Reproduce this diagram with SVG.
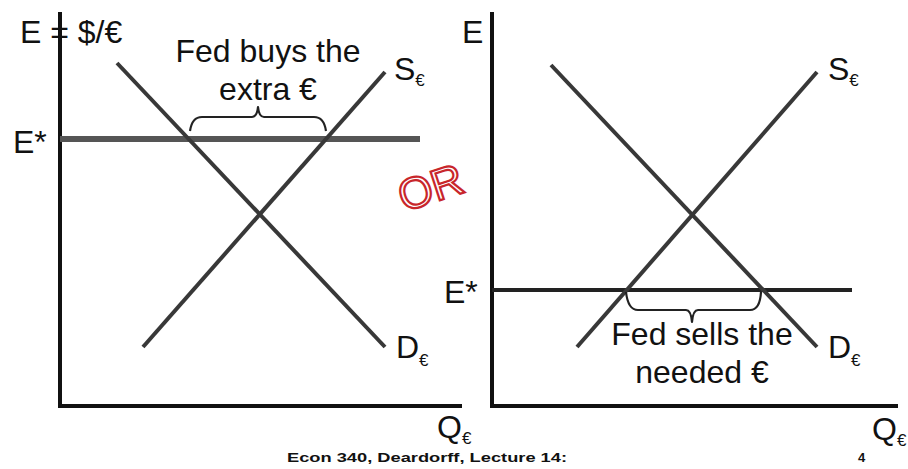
<svg xmlns="http://www.w3.org/2000/svg" width="908" height="469" viewBox="0 0 908 469">
<style>
.axis{stroke:#111;stroke-width:4;fill:none;stroke-linecap:square}
.curve{stroke:#383838;stroke-width:4;fill:none}
.brace{stroke:#222;stroke-width:2.2;fill:none;stroke-linejoin:round}
.lbl{font-family:"Liberation Sans",Arial,sans-serif;fill:#111}
.big{font-size:32px}
.sub{font-size:17px}
.foot{font-family:"Liberation Sans",Arial,sans-serif;font-size:13px;font-weight:bold;fill:#111}
</style>
<rect width="908" height="469" fill="#fff"/>
<g id="left-chart">
  <line class="axis" x1="60" y1="14" x2="60" y2="406"/>
  <line class="axis" x1="60" y1="406" x2="460" y2="406"/>
  <line x1="60" y1="139" x2="420" y2="139" stroke="#555" stroke-width="6"/>
  <line class="curve" x1="117" y1="63" x2="385" y2="347"/>
  <line class="curve" x1="143" y1="347" x2="385" y2="72"/>
  <path class="brace" d="M190,131 Q192,117 202,117 L252,117 Q257,117 258,107 Q259,117 264,117 L314,117 Q324,117 326,131"/>
  <text class="lbl big" x="20" y="43">E = $/€</text>
  <text class="lbl big" x="13" y="153">E*</text>
  <text class="lbl big" x="268" y="62" text-anchor="middle">Fed buys the</text>
  <text class="lbl big" x="268" y="100" text-anchor="middle">extra €</text>
  <text class="lbl big" x="394" y="80">S<tspan class="sub" dy="6">€</tspan></text>
  <text class="lbl big" x="396" y="358">D<tspan class="sub" dy="8">€</tspan></text>
  <text class="lbl big" x="437" y="438">Q<tspan class="sub" dy="6">€</tspan></text>
</g>
<g id="or-label">
  <text x="404" y="212" transform="rotate(-18 404 212)" font-family="'Liberation Sans',Arial,sans-serif" font-size="44" fill="#fff" stroke="#c8262b" stroke-width="2.2">OR</text>
</g>
<g id="right-chart">
  <line class="axis" x1="492" y1="14" x2="492" y2="406"/>
  <line class="axis" x1="492" y1="406" x2="896" y2="406"/>
  <line x1="492" y1="290" x2="852" y2="290" stroke="#222" stroke-width="4"/>
  <line class="curve" x1="551" y1="65" x2="817" y2="347"/>
  <line class="curve" x1="577" y1="347" x2="817" y2="72"/>
  <path class="brace" d="M626,292 Q628,310 638,310 L686,310 Q691,310 692,322 Q693,310 698,310 L750,310 Q760,310 761,292"/>
  <text class="lbl big" x="462" y="43">E</text>
  <text class="lbl big" x="444" y="303">E*</text>
  <text class="lbl big" x="702" y="345" text-anchor="middle">Fed sells the</text>
  <text class="lbl big" x="702" y="383" text-anchor="middle">needed €</text>
  <text class="lbl big" x="828" y="80">S<tspan class="sub" dy="6">€</tspan></text>
  <text class="lbl big" x="828" y="358">D<tspan class="sub" dy="8">€</tspan></text>
  <text class="lbl big" x="872" y="440">Q<tspan class="sub" dy="6">€</tspan></text>
</g>
<g id="footer">
  <text class="foot" x="287" y="462" textLength="280" lengthAdjust="spacingAndGlyphs">Econ 340, Deardorff, Lecture 14:</text>
  <text class="foot" x="858" y="462">4</text>
</g>
</svg>
